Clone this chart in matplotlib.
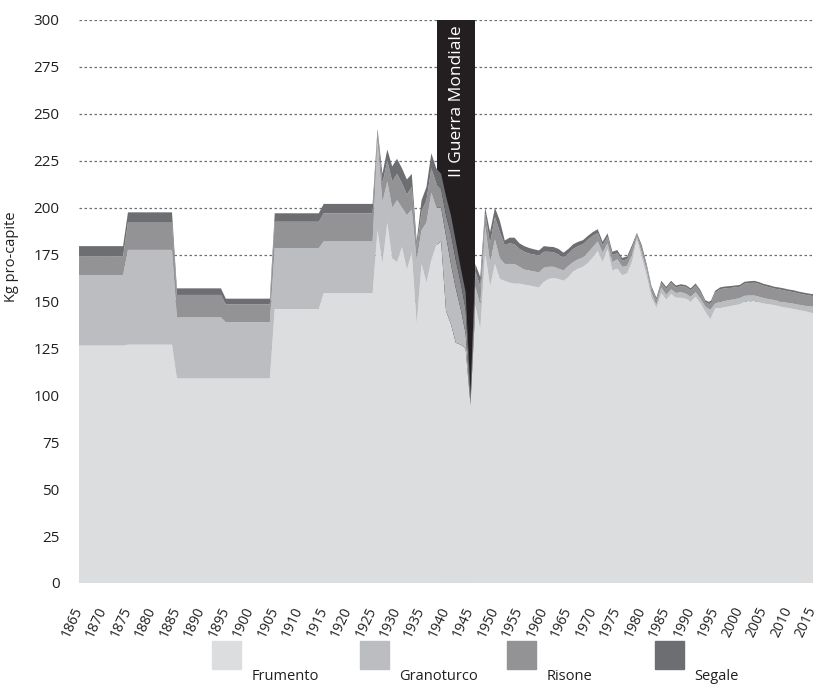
import matplotlib
matplotlib.use("Agg")
import matplotlib.pyplot as plt
from matplotlib.patches import Rectangle

plt.rcParams['font.family'] = ['Open Sans', 'DejaVu Sans']

# anni: blocchi decennali fino al 1925, poi serie annuale
years = [1865, 1874, 1875, 1884, 1885, 1894, 1895, 1904, 1905, 1914, 1915, 1925] + list(range(1926, 2016))

frumento = [126.5, 126.5, 127, 127, 109, 109, 109, 109, 146, 146, 154.5, 154.5,
            188, 170, 192, 173, 171, 179, 167, 176, 138, 170,
            160, 172, 180, 182, 145, 138, 128, 127, 125, 95,
            148, 135, 176, 158, 170, 162, 161, 160, 159.5, 159.5,
            159, 158.5, 158, 157.5, 160.5, 162, 162.5, 162, 161, 163,
            166, 167.5, 168.5, 170.5, 173.5, 177, 171, 178, 166.5, 167.5,
            164, 165, 171, 183, 173.5, 163.5, 152, 146.5, 154.5, 151,
            154, 152, 152, 151.5, 150, 152.5, 149, 144.5, 140.5, 146.3,
            146.5, 147, 147.5, 148, 148.5, 149.8, 150.1, 150.2, 149.5, 148.9,
            148.5, 148.1, 147.5, 146.9, 146.5, 146, 145.5, 145, 144.4, 143.7]

granoturco = [37.5, 37.5, 50.5, 50.5, 32.5, 32.5, 30, 30, 32.5, 32.5, 27.5, 27.5,
              48, 33, 22, 27, 33, 21, 29, 23, 34, 18,
              32, 36, 20, 18, 40, 32, 29, 19, 8, 2,
              10, 13, 14, 13, 13, 11, 9, 10, 10.5, 9,
              8, 8, 8, 8, 7.5, 6.5, 6, 5.5, 5.5, 6,
              5, 5, 5, 5.5, 5.5, 5, 5, 3, 4.5, 5,
              4.5, 4, 4, 1.5, 2.5, 3, 2.5, 2, 3, 2.5,
              2.5, 2.5, 3, 2.7, 2.5, 2.5, 2.5, 2.8, 5, 2.6,
              3.3, 3.3, 3.3, 3.2, 3.3, 3.2, 3.1, 3, 3, 2.9,
              2.7, 2.7, 2.7, 2.8, 2.7, 2.8, 2.8, 2.8, 3.1, 3.5]

risone = [10, 10, 14.5, 14.5, 12, 12, 9.5, 9.5, 14, 14, 15, 15,
          4, 10, 11, 14, 14, 13, 11, 12, 7, 10,
          12, 13, 13, 10, 11, 16, 15, 14, 13, 2,
          8, 10, 7, 10, 12, 14, 10, 11, 10.5, 9.5,
          9.5, 9, 9, 9, 8.5, 8, 7.7, 7.5, 7, 6.5,
          7, 7, 7, 7, 6, 4.5, 4, 3.5, 3.8, 3.3,
          3.3, 3.5, 3.5, 1.3, 2.5, 2.3, 2.3, 2.5, 2.5, 3.3,
          3.5, 3, 3.2, 3.6, 3.5, 3.5, 3.5, 2.3, 3, 5.8,
          6.7, 6.7, 6.4, 6.3, 6, 6.5, 6.6, 6.8, 6.8, 6.5,
          6.5, 6.1, 6.3, 6.3, 6.2, 6.2, 6, 6, 5.8, 5.7]

segale = [5.5, 5.5, 5.5, 5.5, 3.5, 3.5, 3, 3, 4.5, 4.5, 5, 5,
          2, 5, 6, 8, 8, 8, 8, 7, 3, 6,
          7, 8, 8, 8, 10, 10, 10, 8, 9, 2,
          4, 5, 3, 6, 5, 6, 2.5, 3, 3.5, 3,
          3, 3, 2.8, 2.7, 3, 2.7, 2.8, 3, 2.5, 2.5,
          2.5, 2.3, 2.2, 2, 2, 2, 1.8, 1.8, 1.7, 1.6,
          1.4, 1.5, 1.5, 0.8, 1.5, 1.2, 1.2, 1, 1, 1,
          1, 1, 1, 0.9, 1, 1.1, 1, 1, 1, 1,
          1, 1, 1, 1, 1, 1, 1, 1, 1, 1,
          1, 1, 1, 1, 1, 1, 1, 1, 1, 1]

labels = ['Frumento', 'Granoturco', 'Risone', 'Segale']
colors = ['#dcdddf', '#bcbdc0', '#939396', '#6d6e71']
war_start, war_end = 1938.2, 1945.9

fig = plt.figure(figsize=(8.24, 6.87), dpi=100)
ax = fig.add_axes([0.0959, 0.1514, 0.8908, 0.8195])

ax.axvspan(war_start, war_end, color='#231f20', zorder=1, lw=0)
ax.stackplot(years, frumento, granoturco, risone, segale, colors=colors,
             labels=labels, zorder=2, lw=0)

ax.text((war_start + war_end) / 2 + 0.2, 297, 'II Guerra Mondiale', color='white',
        rotation=90, ha='center', va='top', fontsize=12.5, zorder=3)

ax.set_xlim(1865, 2015)
ax.set_ylim(0, 300)
ax.set_yticks(range(0, 301, 25))
ax.set_xticks(range(1865, 2016, 5))
ax.set_xticklabels([str(y) for y in range(1865, 2016, 5)], rotation=65,
                   rotation_mode='anchor', ha='right', va='center')
ax.tick_params(axis='both', length=0, colors='#231f20')
ax.tick_params(axis='y', pad=14, labelsize=11)
ax.tick_params(axis='x', pad=18, labelsize=10)
ax.yaxis.grid(True, linestyle=(0, (2, 2)), color='#6d6e71', lw=0.9)
ax.set_axisbelow(True)
for s in ax.spines.values():
    s.set_visible(False)

fig.text(12 / 824, 1 - 257 / 687, 'Kg pro-capite', rotation=90, ha='center',
         va='center', fontsize=10.5, color='#231f20')

# legenda manuale
for i, (lab, col) in enumerate(zip(labels, colors)):
    x0 = (212 + i * 147.5) / 824
    fig.patches.append(Rectangle((x0, 1 - 669 / 687), 29 / 824, 28 / 687,
                                 transform=fig.transFigure, color=col))
    fig.text(x0 + 40 / 824, 1 - 676 / 687, lab, ha='left', va='center',
             fontsize=10.5, color='#231f20')

fig.savefig('out.png', dpi=100)
